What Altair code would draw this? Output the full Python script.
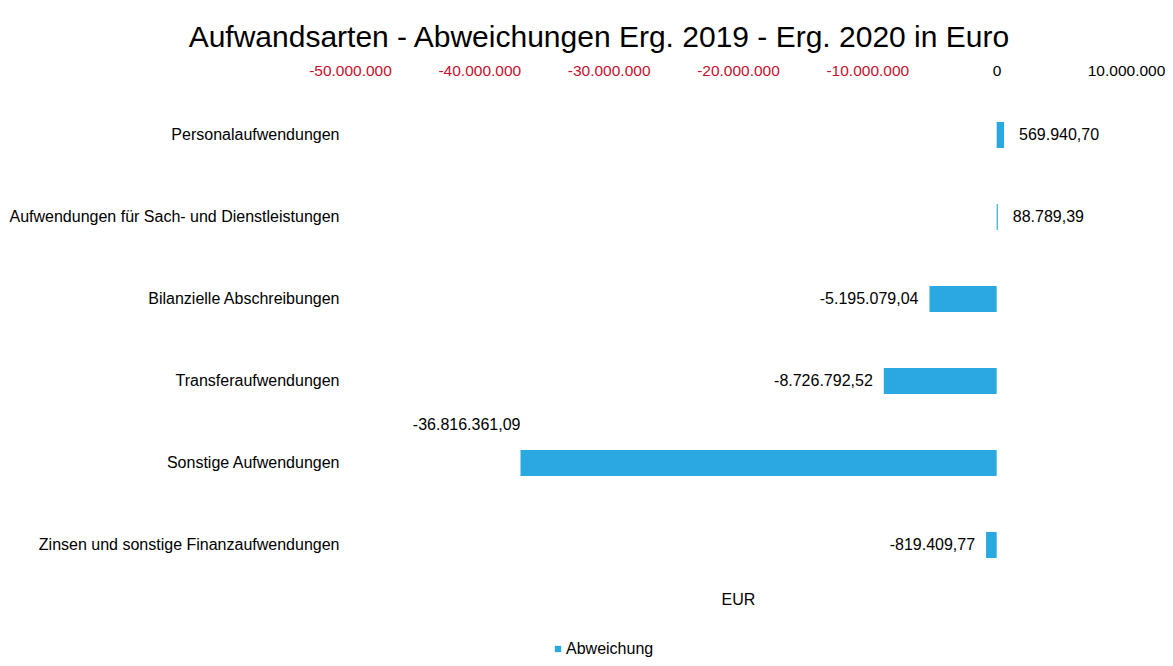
import altair as alt
import pandas as pd

categories = [
    "Personalaufwendungen",
    "Aufwendungen für Sach- und Dienstleistungen",
    "Bilanzielle Abschreibungen",
    "Transferaufwendungen",
    "Sonstige Aufwendungen",
    "Zinsen und sonstige Finanzaufwendungen",
]
values = [569940.70, 88789.39, -5195079.04, -8726792.52, -36816361.09, -819409.77]
series_name = "Abweichung"
tick_values = [-50000000, -40000000, -30000000, -20000000, -10000000, 0, 10000000]

df = pd.DataFrame({"Kategorie": categories, "Abweichung": values, "Serie": series_name})

FONT = "Liberation Sans"
BLUE = "#29a9e0"
FS = 16

x_enc = alt.X(
    "Abweichung:Q",
    scale=alt.Scale(domain=[tick_values[0], tick_values[-1]], nice=False, zero=False),
    axis=alt.Axis(
        orient="top",
        values=tick_values,
        format=",.0f",
        labelColor={"condition": {"test": "datum.value < 0", "value": "#c8102e"}, "value": "#000000"},
        labelFontSize=15.5,
        labelFont=FONT,
        labelPadding=16,
        labelFlush=False,
        domain=False,
        ticks=False,
        grid=False,
        title="EUR",
        titleFont=FONT,
        titleFontSize=FS,
        titleFontWeight="normal",
        titleColor="#000000",
        titleY=505,
        titleBaseline="middle",
    ),
)
y_enc = alt.Y(
    "Kategorie:N",
    sort=categories,
    scale=alt.Scale(paddingInner=0.6, paddingOuter=0.3),
    axis=alt.Axis(
        title=None,
        domain=False,
        ticks=False,
        labelFontSize=FS,
        labelFont=FONT,
        labelColor="#000000",
        labelPadding=11,
        labelLimit=400,
    ),
)

base = alt.Chart(df)

bars = base.mark_bar(size=26).encode(
    x=x_enc,
    y=y_enc,
    color=alt.Color(
        "Serie:N",
        scale=alt.Scale(range=[BLUE]),
        legend=alt.Legend(
            orient="none",
            legendX=200,
            legendY=547,
            title=None,
            symbolType="square",
            symbolSize=40,
            symbolStrokeWidth=0,
            labelFont=FONT,
            labelFontSize=FS,
            labelColor="#000000",
            labelOffset=0,
        ),
    ),
)

txt_kw = dict(fontSize=FS, font=FONT, color="#000000", baseline="middle")

pos_labels = base.transform_filter("datum.Abweichung >= 0").mark_text(align="left", dx=15, **txt_kw).encode(
    x="Abweichung:Q", y=alt.Y("Kategorie:N", sort=categories), text=alt.Text("Abweichung:Q", format=",.2f")
)
neg_labels = base.transform_filter("datum.Abweichung < 0 && datum.Abweichung > -20000000").mark_text(
    align="right", dx=-11, **txt_kw
).encode(x="Abweichung:Q", y=alt.Y("Kategorie:N", sort=categories), text=alt.Text("Abweichung:Q", format=",.2f"))
big_labels = base.transform_filter("datum.Abweichung <= -20000000").mark_text(
    align="right", dy=-38, **txt_kw
).encode(x="Abweichung:Q", y=alt.Y("Kategorie:N", sort=categories), text=alt.Text("Abweichung:Q", format=",.2f"))

chart = (
    alt.layer(bars, pos_labels, neg_labels, big_labels)
    .properties(
        width=776,
        height=492,
        background="white",
        autosize=alt.AutoSizeParams(type="none"),
        title=alt.TitleParams(
            "Aufwandsarten - Abweichungen Erg. 2019 -  Erg. 2020 in Euro",
            font=FONT,
            fontSize=30,
            fontWeight="normal",
            color="#000000",
            anchor="middle",
            frame="bounds",
            dx=12,
            offset=10,
        ),
        padding={"left": 342, "top": 86, "right": 39, "bottom": 72},
    )
    .configure_view(stroke=None, strokeWidth=0)
)

chart.save(
    "out.html",
    embed_options={
        "renderer": "svg",
        "actions": False,
        "formatLocale": {
            "decimal": ",",
            "thousands": ".",
            "grouping": [3],
            "currency": ["", " €"],
            "minus": "-",
        },
    },
)
